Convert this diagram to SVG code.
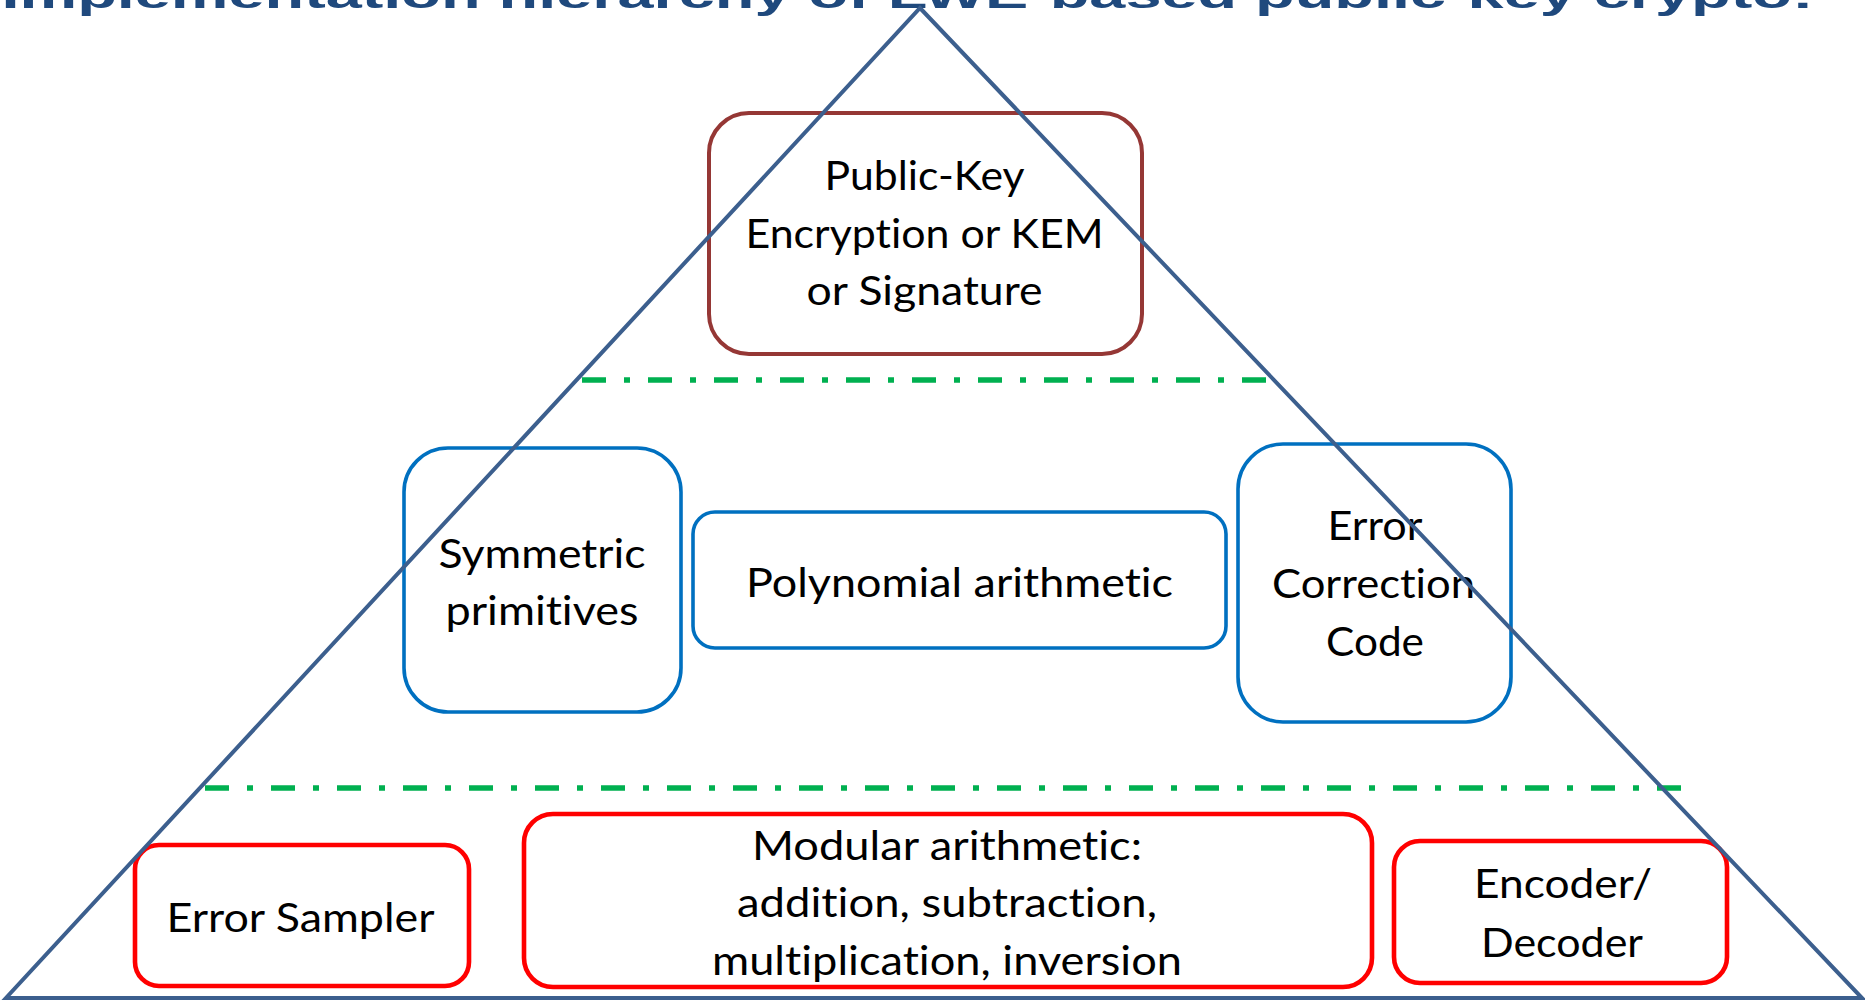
<svg xmlns="http://www.w3.org/2000/svg" width="1865" height="1005" viewBox="0 0 1865 1005">
  <style>
    .title { font-family: "Liberation Sans", Arial, sans-serif; font-weight: bold; font-size: 38px; fill: #1F497D; }
    .lbl { font-family: Lato, "Open Sans", "Liberation Sans", sans-serif; font-size: 41px; fill: #000000; text-anchor: middle; font-variant-ligatures: none; font-feature-settings: "liga" 0, "dlig" 0; }
    .box { fill: #FFFFFF; }
    .top { stroke: #953735; stroke-width: 4; }
    .mid { stroke: #0070C0; stroke-width: 3.6; }
    .low { stroke: #FF0000; stroke-width: 4.6; }
    .sep { stroke: #00B050; stroke-width: 5.5; stroke-dasharray: 24 18 6 18; fill: none; }
    .pyramid { stroke: #3C5F8E; stroke-width: 4; fill: none; stroke-linejoin: miter; }
  </style>

  <rect width="1865" height="1005" fill="#FFFFFF"/>

  <!-- slide title, mostly above the visible area -->
  <text class="title" x="1.5" y="8" textLength="1812" lengthAdjust="spacingAndGlyphs">Implementation hierarchy of LWE-based public-key crypto:</text>

  <!-- top layer -->
  <g id="pke-kem-signature">
    <rect class="box top" x="709" y="113" width="433" height="241" rx="40"/>
    <text class="lbl" x="924.5" y="190" textLength="200" lengthAdjust="spacingAndGlyphs">Public-Key</text>
    <text class="lbl" x="924.5" y="248" textLength="358" lengthAdjust="spacingAndGlyphs">Encryption or KEM</text>
    <text class="lbl" x="924.5" y="305" textLength="236" lengthAdjust="spacingAndGlyphs">or Signature</text>
  </g>

  <!-- middle layer -->
  <g id="symmetric-primitives">
    <rect class="box mid" x="404" y="448" width="277" height="264" rx="44"/>
    <text class="lbl" x="542" y="568" textLength="207" lengthAdjust="spacingAndGlyphs">Symmetric</text>
    <text class="lbl" x="542" y="625" textLength="193" lengthAdjust="spacingAndGlyphs">primitives</text>
  </g>

  <g id="polynomial-arithmetic">
    <rect class="box mid" x="693" y="512" width="533" height="136" rx="22"/>
    <text class="lbl" x="959.5" y="597" textLength="427" lengthAdjust="spacingAndGlyphs">Polynomial arithmetic</text>
  </g>

  <g id="error-correction-code">
    <rect class="box mid" x="1238" y="444" width="273" height="278" rx="45"/>
    <text class="lbl" x="1375" y="540" textLength="95" lengthAdjust="spacingAndGlyphs">Error</text>
    <text class="lbl" x="1373.5" y="598" textLength="203" lengthAdjust="spacingAndGlyphs">Correction</text>
    <text class="lbl" x="1375" y="656" textLength="98" lengthAdjust="spacingAndGlyphs">Code</text>
  </g>

  <!-- bottom layer -->
  <g id="error-sampler">
    <rect class="box low" x="135" y="845" width="334" height="141" rx="24"/>
    <text class="lbl" x="300.5" y="932" textLength="268" lengthAdjust="spacingAndGlyphs">Error Sampler</text>
  </g>

  <g id="modular-arithmetic">
    <rect class="box low" x="524" y="814" width="848" height="173" rx="29"/>
    <text class="lbl" x="947" y="860" textLength="390" lengthAdjust="spacingAndGlyphs">Modular arithmetic:</text>
    <text class="lbl" x="947" y="917" textLength="420" lengthAdjust="spacingAndGlyphs">addition, subtraction,</text>
    <text class="lbl" x="947" y="975" textLength="470" lengthAdjust="spacingAndGlyphs">multiplication, inversion</text>
  </g>

  <g id="encoder-decoder">
    <rect class="box low" x="1394" y="841" width="333" height="142" rx="26"/>
    <text class="lbl" x="1563" y="898" textLength="178" lengthAdjust="spacingAndGlyphs">Encoder/</text>
    <text class="lbl" x="1562" y="957" textLength="162" lengthAdjust="spacingAndGlyphs">Decoder</text>
  </g>

  <!-- layer separators and the enclosing pyramid -->
  <g id="connectors">
    <line class="sep" x1="582" y1="380" x2="1266" y2="380"/>
    <line class="sep" x1="205" y1="788" x2="1681" y2="788"/>
    <polygon class="pyramid" points="920,8 1862,998 6,998"/>
  </g>
</svg>
